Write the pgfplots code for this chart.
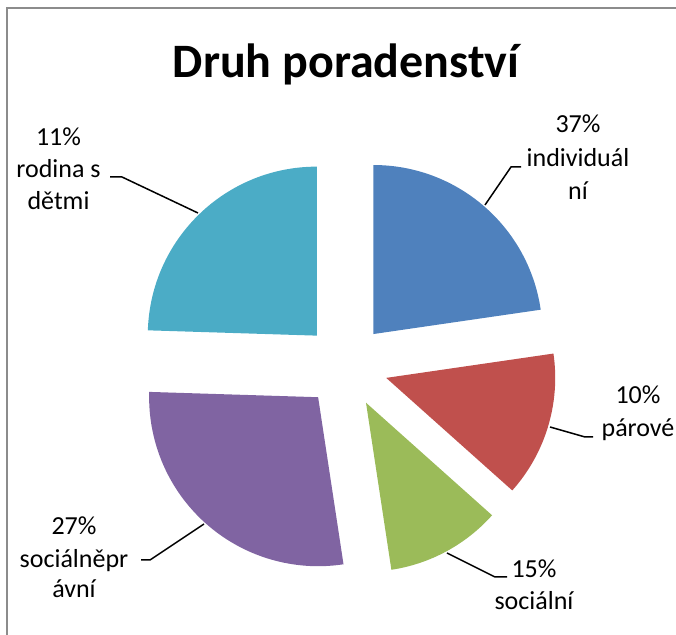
\documentclass[border=0pt]{standalone}
\usepackage{pgfplots}
\pgfplotsset{compat=1.18}
\usepackage{pgfplotstable}
\usepackage{fontspec}
\setmainfont{Carlito}

\definecolor{sBlue}{HTML}{4F81BD}
\definecolor{sRed}{HTML}{C0504D}
\definecolor{sGreen}{HTML}{9BBB59}
\definecolor{sPurple}{HTML}{8064A2}
\definecolor{sTeal}{HTML}{4BACC6}
\definecolor{frame}{HTML}{8C8C8C}

% drawn share of each slice (clockwise from 12 o'clock)
\pgfplotstableread{
share col
22.7 sBlue
13.9 sRed
11.0 sGreen
27.9 sPurple
24.5 sTeal
}\slices

\begin{document}
\begin{tikzpicture}
\useasboundingbox (0,0) rectangle (338pt,317.5pt);
\begin{axis}[
    at={(0,0)}, anchor=south west,
    scale only axis, width=338pt, height=317.5pt,
    xmin=0, xmax=676, ymin=0, ymax=635, y dir=reverse,
    hide axis, clip=false,
    font=\fontsize{13}{16}\selectfont
]
% frame
\draw[frame, line width=0.8pt] (axis cs:7,635) -- (axis cs:7,8) -- (axis cs:676,8);

% exploded slices
\def\astart{90}
\pgfplotsforeachungrouped \i in {0,...,4}{
    \pgfplotstablegetelem{\i}{share}\of\slices
    \pgfmathsetmacro\aend{\astart-3.6*\pgfplotsretval}
    \pgfmathsetmacro\amid{(\astart+\aend)/2}
    \pgfmathsetmacro\ox{346+42*cos(\amid)}
    \pgfmathsetmacro\oy{365.8-42*sin(\amid)}
    \pgfplotstablegetelem{\i}{col}\of\slices
    \edef\cmd{\noexpand\fill[\pgfplotsretval] (axis cs:\ox,\oy) -- ++(\astart:84.5pt)
        arc[start angle=\astart, end angle=\aend, radius=84.5pt] -- cycle;}
    \cmd
    \let\astart\aend
}

% title
\node[anchor=base, font=\bfseries\fontsize{24}{28}\selectfont] at (axis cs:346,78) {Druh poradenství};

% leader lines
\draw[line width=0.75pt] (axis cs:485,205) -- (axis cs:511,167) -- (axis cs:521,167);
\draw[line width=0.75pt] (axis cs:550,427) -- (axis cs:585,437) -- (axis cs:593,437);
\draw[line width=0.75pt] (axis cs:447,553) -- (axis cs:495,577) -- (axis cs:507,577);
\draw[line width=0.75pt] (axis cs:204,524) -- (axis cs:150,560) -- (axis cs:141,560);
\draw[line width=0.75pt] (axis cs:198,213) -- (axis cs:122,177) -- (axis cs:110,177);

% data labels
\node[anchor=base] at (axis cs:578,133) {37\%};
\node[anchor=base] at (axis cs:578,166.5) {individuál};
\node[anchor=base] at (axis cs:578,199.5) {ní};
\node[anchor=base] at (axis cs:638,404) {10\%};
\node[anchor=base] at (axis cs:638,437) {párové};
\node[anchor=base] at (axis cs:534,578) {15\%};
\node[anchor=base] at (axis cs:534,610) {sociální};
\node[anchor=base] at (axis cs:74,535) {27\%};
\node[anchor=base] at (axis cs:74,567.5) {sociálněpr};
\node[anchor=base] at (axis cs:74,598) {ávní};
\node[anchor=base] at (axis cs:58.5,145.5) {11\%};
\node[anchor=base] at (axis cs:58.5,178) {rodina s};
\node[anchor=base] at (axis cs:58.5,210) {dětmi};
\end{axis}
\end{tikzpicture}
\end{document}
